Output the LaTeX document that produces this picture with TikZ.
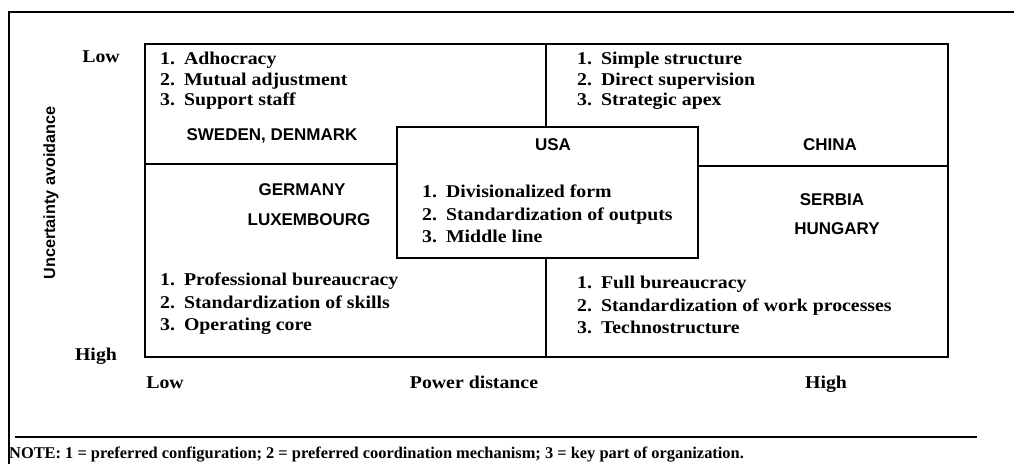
\documentclass[tikz,border=0pt]{standalone}
\usepackage{fontspec}
\setmainfont{Liberation Serif}
\setsansfont{Liberation Sans}
\newfontfamily\listfont[FakeStretch=1.1]{Liberation Serif}
\tikzset{lst/.style  = {anchor=west, inner sep=0pt, align=left,
                        font=\listfont\bfseries\fontsize{18}{20.5}\selectfont},
         lstw/.style = {lst, font=\listfont\bfseries\fontsize{18}{22.5}\selectfont},
         ctry/.style = {inner sep=0pt, font=\sffamily\bfseries\fontsize{17}{19}\selectfont},
         ax/.style   = {anchor=base, inner sep=0pt, font=\listfont\bfseries\fontsize{18}{20}\selectfont},
         frm/.style  = {line width=1.9pt}}

\begin{document}
\begin{tikzpicture}[x=1pt, y=-1pt]
    \useasboundingbox (0,0) rectangle (1014,464);
    % outer frame
    \draw[frm] (1014,12) -- (9,12) -- (9,464);
    % quadrants
    \coordinate (tl) at (145,44);  \coordinate (br) at (948,357);
    \draw[frm] (tl) rectangle (br);
    \draw[frm] (145,164) -- (396,164);
    \draw[frm] (697,166) -- (948,166);
    \draw[frm] (546,44) -- (546,126);
    \draw[frm] (546,257) -- (546,357);
    \node[draw, frm, fill=white, minimum width=301pt, minimum height=131pt,
          anchor=north west, inner sep=0pt] (usabox) at (396,126) {};
    % axis labels
    \node[ax] (uLow)  at (101,62)  {Low};
    \node[ax] (uHigh) at (96,360)  {High};
    \node[ax] (pLow)  at (165,388) {Low};
    \node[ax] (pAx)   at (474,388) {Power distance};
    \node[ax] (pHigh) at (826,388) {High};
    \node[rotate=90, inner sep=0pt, font=\sffamily\bfseries\fontsize{16.2}{18}\selectfont]
        (uAx) at (51,193) {Uncertainty avoidance};
    % configurations
    \node[lst]  (adh) at (160,81)  {1.\enspace Adhocracy\\2.\enspace Mutual adjustment\\3.\enspace Support staff};
    \node[lst]  (sim) at (577,81)  {1.\enspace Simple structure\\2.\enspace Direct supervision\\3.\enspace Strategic apex};
    \node[lstw] (div) at (422,214) {1.\enspace Divisionalized form\\2.\enspace Standardization of outputs\\3.\enspace Middle line};
    \node[lstw] (pro) at (160,304) {1.\enspace Professional bureaucracy\\2.\enspace Standardization of skills\\3.\enspace Operating core};
    \node[lstw] (ful) at (577,305) {1.\enspace Full bureaucracy\\2.\enspace Standardization of work processes\\3.\enspace Technostructure};
    % countries
    \node[ctry] (swe) at (272,136) {SWEDEN, DENMARK};
    \node[ctry] (usa) at (553,145) {USA};
    \node[ctry] (chn) at (830,145) {CHINA};
    \node[ctry] (ger) at (302,190) {GERMANY};
    \node[ctry] (lux) at (309,220) {LUXEMBOURG};
    \node[ctry] (srb) at (832,200) {SERBIA};
    \node[ctry] (hun) at (837,229) {HUNGARY};
    % note
    \coordinate (nL) at (15,437); \coordinate (nR) at (977,437);
    \draw[line width=1.6pt] (nL) -- (nR);
    \node[anchor=base west, inner sep=0pt, font=\bfseries\fontsize{16.4}{18}\selectfont] (note) at (9,458)
        {NOTE: 1 = preferred configuration; 2 = preferred coordination mechanism; 3 = key part of organization.};
\end{tikzpicture}
\end{document}
